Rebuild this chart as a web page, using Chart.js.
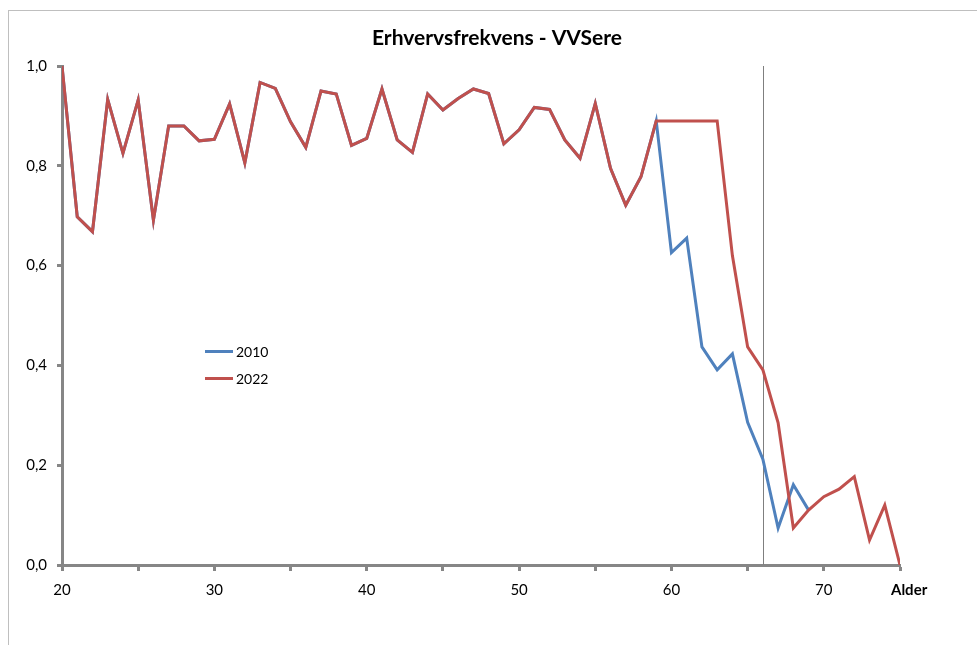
<!DOCTYPE html>
<html>
<head>
<meta charset="utf-8">
<script src="https://cdn.jsdelivr.net/npm/chart.js@4"></script>
<style>
  body { margin: 0; background: #fff; }
  .wrap { position: relative; width: 977px; height: 645px; }
  .ramme { position: absolute; left: 8px; top: 10px; right: -2px; bottom: -2px; border-left: 1px solid #bfbfbf; border-top: 1px solid #bfbfbf; }
  canvas { position: absolute; left: 0; top: 0; }
</style>
</head>
<body>
<div class="wrap">
  <div class="ramme"></div>
  <canvas id="myChart" width="977" height="645"></canvas>
</div>
<script>
const titel = "Erhvervsfrekvens - VVSere";
const aldre = [20, 21, 22, 23, 24, 25, 26, 27, 28, 29, 30, 31, 32, 33, 34, 35, 36, 37, 38, 39,
  40, 41, 42, 43, 44, 45, 46, 47, 48, 49, 50, 51, 52, 53, 54, 55, 56, 57, 58, 59,
  60, 61, 62, 63, 64, 65, 66, 67, 68, 69, 70, 71, 72, 73, 74, 75];
const frekvens2010 = [1.0, 0.698, 0.668, 0.933, 0.825, 0.932, 0.691, 0.880, 0.880, 0.850,
  0.853, 0.924, 0.806, 0.967, 0.955, 0.888, 0.837, 0.950, 0.944, 0.841,
  0.855, 0.954, 0.852, 0.827, 0.944, 0.912, 0.935, 0.954, 0.945, 0.844,
  0.872, 0.917, 0.913, 0.852, 0.815, 0.925, 0.795, 0.721, 0.778, 0.890,
  0.626, 0.655, 0.437, 0.391, 0.423, 0.286, 0.212, 0.074, 0.161, 0.110];
const frekvens2022 = [1.0, 0.698, 0.668, 0.933, 0.825, 0.932, 0.691, 0.880, 0.880, 0.850,
  0.853, 0.924, 0.806, 0.967, 0.955, 0.888, 0.837, 0.950, 0.944, 0.841,
  0.855, 0.954, 0.852, 0.827, 0.944, 0.912, 0.935, 0.954, 0.945, 0.844,
  0.872, 0.917, 0.913, 0.852, 0.815, 0.925, 0.795, 0.721, 0.778, 0.890,
  0.890, 0.890, 0.890, 0.890, 0.620, 0.437, 0.391, 0.285, 0.074, 0.110,
  0.137, 0.152, 0.177, 0.050, 0.120, 0.0];
const serieNavne = ["2010", "2022"];
const pensionsAlder = 66;
const xTekst = "Alder";

const fontNavn = "Lato, 'Open Sans', sans-serif";
const akseGraa = "#868686";

function tilPunkter(vaerdier) {
  return vaerdier.map((v, i) => ({ x: aldre[i], y: v }));
}

// titel, lodret linje og legende inde i plotfeltet
const ekstraTegning = {
  id: "ekstraTegning",
  beforeDatasetsDraw(chart) {
    const { ctx, chartArea, scales } = chart;
    const x = Math.round(scales.x.getPixelForValue(pensionsAlder)) + 0.5;
    ctx.save();
    ctx.strokeStyle = "#7f7f7f";
    ctx.lineWidth = 1;
    ctx.beginPath();
    ctx.moveTo(x, chartArea.top);
    ctx.lineTo(x, chartArea.bottom);
    ctx.stroke();
    ctx.restore();
  },
  afterDraw(chart) {
    const { ctx } = chart;
    ctx.save();
    ctx.fillStyle = "#000";
    ctx.font = "bold 21px " + fontNavn;
    ctx.textAlign = "center";
    ctx.textBaseline = "middle";
    ctx.fillText(titel, 497, 38);

    // legende placeret ved alder ~29-30
    ctx.font = "14px " + fontNavn;
    ctx.textAlign = "left";
    chart.data.datasets.forEach((ds, i) => {
      const y = Math.round(351 + i * 27) + 0.5;
      ctx.strokeStyle = ds.borderColor;
      ctx.lineWidth = 3;
      ctx.beginPath();
      ctx.moveTo(205, y);
      ctx.lineTo(233, y);
      ctx.stroke();
      ctx.fillText(ds.label, 236, y + 1);
    });
    ctx.restore();
  },
};

const config = {
  type: "line",
  data: {
    datasets: [
      {
        label: serieNavne[0],
        data: tilPunkter(frekvens2010),
        borderColor: "#4F81BD",
        backgroundColor: "#4F81BD",
        borderWidth: 3,
        pointRadius: 0,
        tension: 0,
        order: 2,
      },
      {
        label: serieNavne[1],
        data: tilPunkter(frekvens2022),
        borderColor: "#C0504D",
        backgroundColor: "#C0504D",
        borderWidth: 3,
        pointRadius: 0,
        tension: 0,
        order: 1,
      },
    ],
  },
  options: {
    responsive: false,
    animation: false,
    layout: { padding: { top: 66, right: 77, bottom: 0, left: 0 } },
    plugins: {
      legend: { display: false },
      title: { display: false },
      tooltip: { enabled: false },
    },
    scales: {
      x: {
        type: "linear",
        min: 20,
        max: 75,
        border: { display: true, color: akseGraa, width: 3 },
        grid: { drawOnChartArea: false, drawTicks: true, tickLength: 6, tickColor: akseGraa, tickWidth: 3, color: akseGraa },
        ticks: {
          stepSize: 5,
          autoSkip: false,
          maxRotation: 0,
          padding: 10,
          color: "#000",
          font: (c) => ({ family: fontNavn, size: 15, weight: c.tick && c.tick.value === 75 ? "bold" : "normal" }),
          callback: (v) => (v === 75 ? "     " + xTekst : v % 10 === 0 ? String(v) : ""),
        },
        afterFit: (scale) => { scale.height = 80; },
      },
      y: {
        min: 0,
        max: 1,
        border: { display: true, color: akseGraa, width: 3 },
        grid: { drawOnChartArea: false, drawTicks: true, tickLength: 5, tickColor: akseGraa, tickWidth: 3, color: akseGraa },
        ticks: {
          stepSize: 0.2,
          padding: 10,
          color: "#000",
          font: { family: fontNavn, size: 15 },
          callback: (v) => v.toFixed(1).replace(".", ","),
        },
        afterFit: (scale) => { scale.width = 62; },
      },
    },
  },
  plugins: [ekstraTegning],
};

new Chart(document.getElementById("myChart"), config);
</script>
</body>
</html>
